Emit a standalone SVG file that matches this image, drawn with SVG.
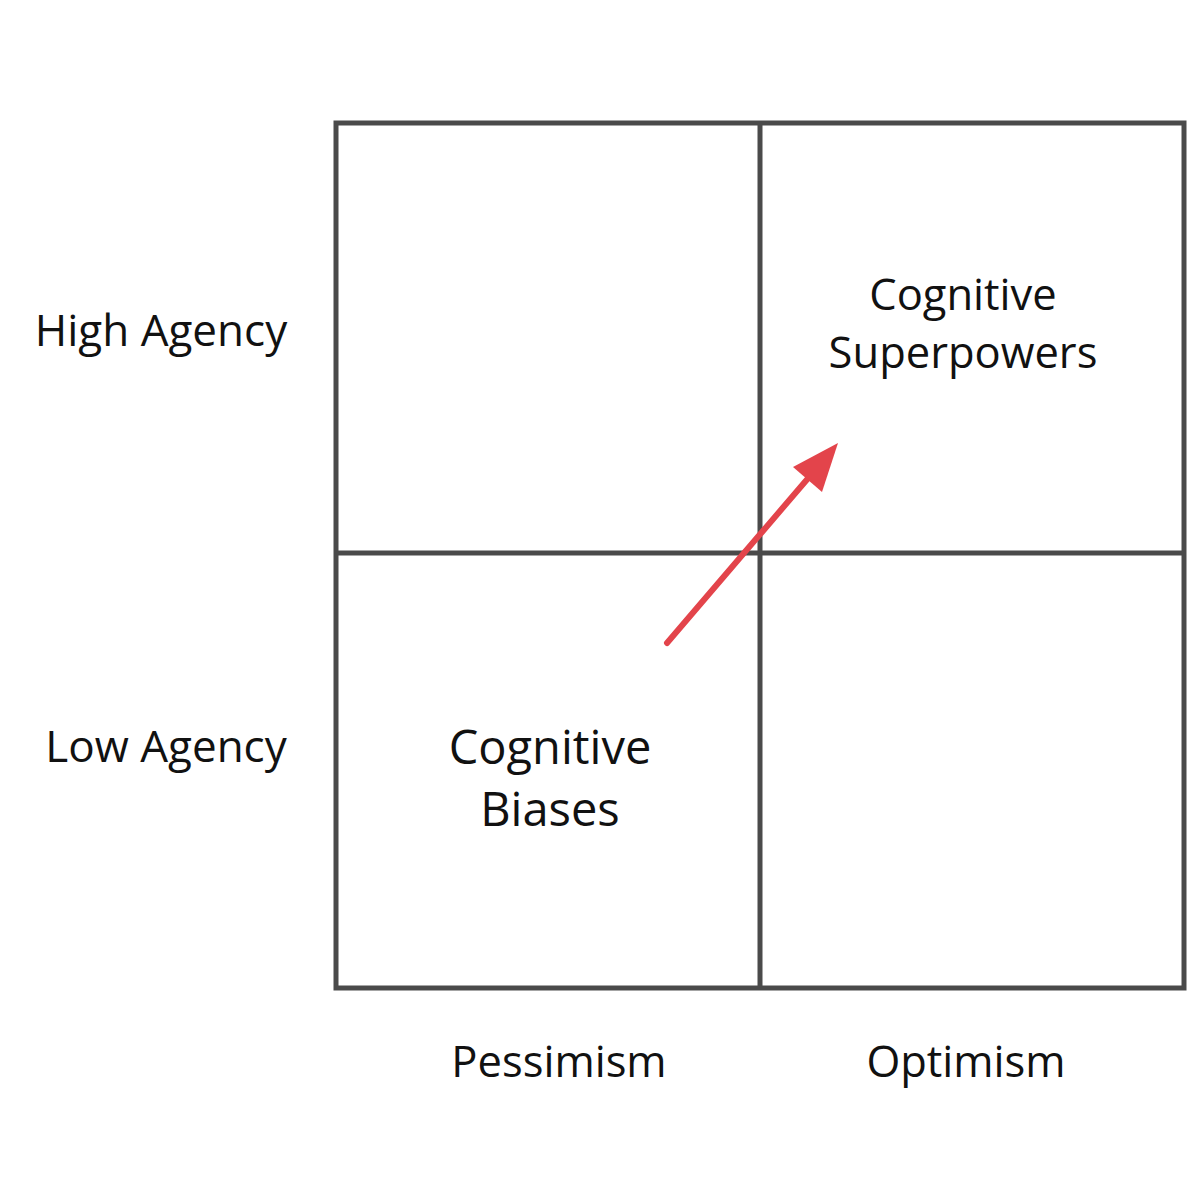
<svg xmlns="http://www.w3.org/2000/svg" width="1200" height="1186" viewBox="0 0 1200 1186">
<style>
.g{fill:none;stroke:#4a4a4a;stroke-width:5}
.t{font-family:"Open Sans","Noto Sans",sans-serif;fill:#111;text-anchor:middle}
</style>
<rect width="1200" height="1186" fill="#fff"/>
<g id="grid">
<rect class="g" x="336" y="123" width="848" height="865"/>
<line class="g" x1="760" y1="123" x2="760" y2="988"/>
<line class="g" x1="336" y1="553" x2="1184" y2="553"/>
</g>
<g id="high-agency"><text class="t" x="161" y="346" font-size="44">High Agency</text></g>
<g id="low-agency"><text class="t" x="166" y="762" font-size="44">Low Agency</text></g>
<g id="superpowers"><text class="t" x="963" y="310" font-size="43.5">Cognitive</text><text class="t" x="963" y="368" font-size="43.5">Superpowers</text></g>
<g id="biases"><text class="t" x="550" y="764" font-size="47">Cognitive</text><text class="t" x="550" y="826" font-size="47">Biases</text></g>
<g id="pessimism"><text class="t" x="559" y="1077" font-size="43.5">Pessimism</text></g>
<g id="optimism"><text class="t" x="966" y="1077" font-size="43.5">Optimism</text></g>
<g id="connectors">
<line x1="667" y1="643" x2="810" y2="476" stroke="#e3444b" stroke-width="6" stroke-linecap="round"/>
<polygon points="838,443 793,467 822,492" fill="#e3444b"/>
</g>
</svg>
